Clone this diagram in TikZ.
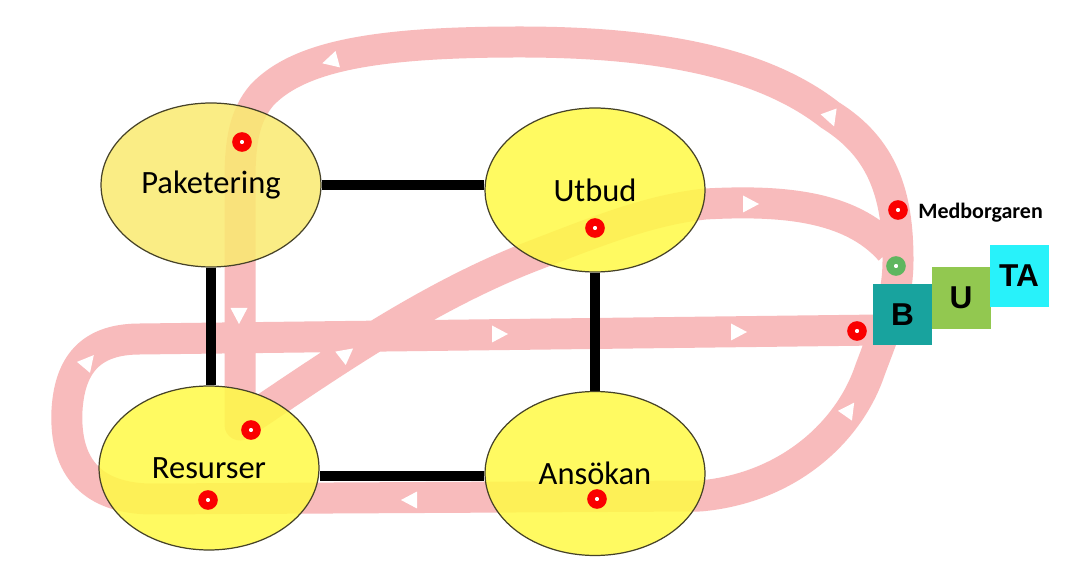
\documentclass[tikz,border=0pt]{standalone}
\usepackage{fontspec}
\setmainfont{Carlito}
\newfontfamily\tilefont{Liberation Sans}
\usetikzlibrary{shapes.geometric}
\pgfdeclarelayer{background}
\pgfsetlayers{background,main}

\definecolor{flowpink}{RGB}{248,187,188}
\definecolor{stageyellow}{RGB}{255,250,70}
\definecolor{stagepale}{RGB}{250,234,112}
\definecolor{stageline}{RGB}{70,66,40}
\definecolor{spotred}{RGB}{250,0,0}
\definecolor{spotgreen}{RGB}{95,182,95}
\definecolor{tileB}{RGB}{24,163,158}
\definecolor{tileU}{RGB}{146,200,80}
\definecolor{tileTA}{RGB}{40,242,250}

\tikzset{
  flow/.style={line width=0.62cm, draw=flowpink, line join=round},
  bar/.style={line width=0.2cm, draw=black},
  stage/.style={ellipse, draw=stageline, line width=0.7pt, fill=stageyellow,
    fill opacity=0.85, text opacity=1, minimum width=4.4cm, minimum height=3.28cm,
    inner sep=0pt, font=\fontsize{18.5}{21}\selectfont},
  spot/.style={circle, draw=spotred, fill=white, line width=0.15cm,
    minimum size=0.24cm, inner sep=0pt},
  tile/.style={minimum width=1.18cm, minimum height=1.24cm, inner sep=0pt,
    font=\tilefont\bfseries\fontsize{18}{20}\selectfont},
  flowtip/.pic={\fill[white] (0.18cm,0cm) -- (-0.14cm,0.17cm) -- (-0.14cm,-0.17cm) -- cycle;}
}

\begin{document}
\begin{tikzpicture}[x=0.02cm, y=-0.02cm]
\useasboundingbox (0,0) rectangle (1084,573);

% the four stages
\node[stage, fill=stagepale] (pak) at (211,185) {Paketering};
\node[stage] (utb) at (595,190) {Utbud};
\node[stage] (res) at (209,468) {Resurser};
\node[stage] (ans) at (595,473.5) {Ansökan};

% touch points
\node[spot] (p1) at (242,142) {};
\node[spot] (u1) at (595,228) {};
\node[spot] (r1) at (251,430) {};
\node[spot] (r2) at (208,500) {};
\node[spot] (a1) at (597,499) {};
\node[spot] (med) at (898,210) {};
\node[spot, draw=spotgreen] (grn) at (896,266) {};
\node[spot] (b1) at (857,331) {};

\node[anchor=base west, inner sep=0pt, font=\bfseries\fontsize{12.5}{14}\selectfont] (medtxt) at (918,219) {Medborgaren};

% BUTA tiles
\node[tile, fill=tileB] (tb) at (902.5,314.5) {B};
\node[tile, fill=tileU] (tu) at (961,298) {U};
\node[tile, fill=tileTA] (tta) at (1019,276) {TA};

\begin{pgfonlayer}{background}
  \fill[white] (0,0) rectangle (1084,573);

  % customer journey band
  \draw[flow] (880,330) -- (140,339)
    .. controls (95,339) and (70,360) .. (67,410)
    .. controls (64,470) and (95,498) .. (150,499)
    -- (700,496)
    .. controls (790,488) and (850,430) .. (870,370)
    .. controls (885,330) and (898,300) .. (898,260)
    .. controls (898,195) and (883,148) .. (830,115)
    .. controls (760,60) and (650,42) .. (520,42)
    .. controls (380,42) and (300,55) .. (262,95)
    .. controls (245,115) and (240,140) .. (240,180)
    -- (240,425)
    .. controls (320,372) and (420,300) .. (530,257)
    .. controls (600,230) and (650,210) .. (705,204)
    .. controls (780,200) and (850,205) .. (890,250);

  % direction marks on the band
  \pic[rotate=195] at (331,61) {flowtip};
  \pic[rotate=290] at (831,118) {flowtip};
  \pic[rotate=0] at (750,204) {flowtip};
  \pic[rotate=270] at (239,315) {flowtip};
  \pic[rotate=38] at (346,354) {flowtip};
  \pic[rotate=0] at (499,334) {flowtip};
  \pic[rotate=0] at (738,332) {flowtip};
  \pic[rotate=180] at (410,500) {flowtip};
  \pic[rotate=50] at (88,362) {flowtip};
  \pic[rotate=55] at (849,410) {flowtip};

  % links between the stages
  \draw[bar] (pak.east) -- (pak.east -| utb.west);
  \draw[bar] (pak.south) -- (pak.south |- res.north);
  \draw[bar] (utb.south) -- (utb.south |- ans.north);
  \draw[bar] ([yshift=-0.16cm]res.east) -- ([yshift=-0.16cm]res.east -| ans.west);
\end{pgfonlayer}
\end{tikzpicture}
\end{document}
